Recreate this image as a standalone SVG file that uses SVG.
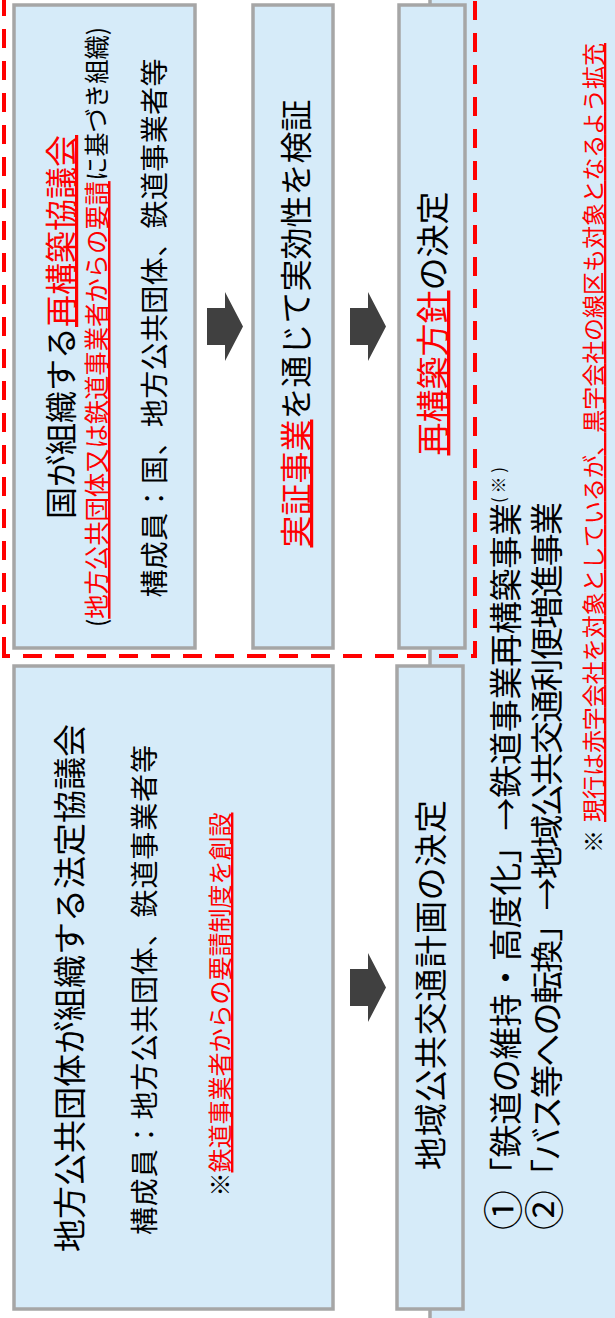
<svg xmlns="http://www.w3.org/2000/svg" width="615" height="1318" viewBox="0 0 615 1318">
<style>
.box{fill:#D6EBF9;stroke:#A6A6A6;stroke-width:3.5}
.t{font-family:"Noto Sans CJK JP","Noto Sans CJK SC",sans-serif;fill:#000}
.r{fill:#FF0000;text-decoration:underline}
.rr{font-family:"Noto Sans CJK JP",sans-serif;fill:#FF0000;text-decoration:underline}
.dash{fill:none;stroke:#FF0000;stroke-width:4;stroke-dasharray:19 13}
.arr{fill:#404040}
.cn{font-size:40px}
</style>
<defs>
<path id="arrow" d="M-18.5,0 H18.5 V18 H34.5 L0,36 L-34.5,18 H-18.5 Z"/>
</defs>
<rect x="0" y="0" width="615" height="1318" fill="#FFFFFF"/>
<g transform="translate(0,1318) rotate(-90)">
  <g id="background-panel">
    <rect class="box" x="-10" y="430" width="1340" height="200"/>
    <text class="t" x="88" y="518" font-size="33" textLength="727" lengthAdjust="spacing"><tspan class="cn">①</tspan>「鉄道の維持・高度化」→鉄道事業再構築事業</text>
    <text class="t" x="815" y="505" font-size="17" textLength="36" lengthAdjust="spacing">(※)</text>
    <text class="t" x="88" y="559" font-size="33" textLength="728" lengthAdjust="spacing"><tspan class="cn">②</tspan>「バス等への転換」→地域公共交通利便増進事業</text>
    <text class="t" x="465" y="602" font-size="23">※</text>
    <text class="rr" x="496" y="602" font-size="23" textLength="779" lengthAdjust="spacing">現行は赤字会社を対象としているが、黒字会社の線区も対象となるよう拡充</text>
  </g>
  <g id="new-scheme-frame">
    <rect class="dash" x="662" y="4" width="700" height="471"/>
  </g>
  <g id="node-saikouchiku-kyougikai">
    <rect class="box" x="670" y="14" width="643" height="181"/>
    <text class="t" x="991" y="73" font-size="32" text-anchor="middle">国が組織する<tspan class="r">再構築協議会</tspan></text>
    <text class="t" x="991" y="106" font-size="25" text-anchor="middle" textLength="600" lengthAdjust="spacingAndGlyphs">(<tspan class="r">地方公共団体又は鉄道事業者からの要請</tspan>に基づき組織)</text>
    <text class="t" x="990" y="165" font-size="28" text-anchor="middle" textLength="539" lengthAdjust="spacing">構成員：国、地方公共団体、鉄道事業者等</text>
  </g>
  <g id="node-jisshou-jigyou">
    <rect class="box" x="670" y="253" width="643" height="80"/>
    <text class="t" x="994.5" y="308" font-size="32" text-anchor="middle"><tspan class="r">実証事業</tspan>を通じて実効性を検証</text>
  </g>
  <g id="node-saikouchiku-houshin">
    <rect class="box" x="670" y="399" width="643" height="66"/>
    <text class="t" x="994.5" y="445" font-size="33" text-anchor="middle"><tspan class="r">再構築方針</tspan>の決定</text>
  </g>
  <g id="node-houtei-kyougikai">
    <rect class="box" x="9" y="14" width="643" height="319"/>
    <text class="t" x="330" y="82" font-size="33" text-anchor="middle">地方公共団体が組織する法定協議会</text>
    <text class="t" x="328" y="155" font-size="28" text-anchor="middle" textLength="490" lengthAdjust="spacing">構成員：地方公共団体、鉄道事業者等</text>
    <text class="t" x="313.5" y="229" font-size="24" text-anchor="middle">※<tspan class="r">鉄道事業者からの要請制度を創設</tspan></text>
  </g>
  <g id="node-chiiki-keikaku">
    <rect class="box" x="9" y="397" width="643" height="66"/>
    <text class="t" x="333" y="443" font-size="33" text-anchor="middle" textLength="370" lengthAdjust="spacing">地域公共交通計画の決定</text>
  </g>
  <g id="connectors">
    <use href="#arrow" class="arr" transform="translate(991.5,207)"/>
    <use href="#arrow" class="arr" transform="translate(991.5,350)"/>
    <use href="#arrow" class="arr" transform="translate(330.5,350)"/>
  </g>
</g>
</svg>
